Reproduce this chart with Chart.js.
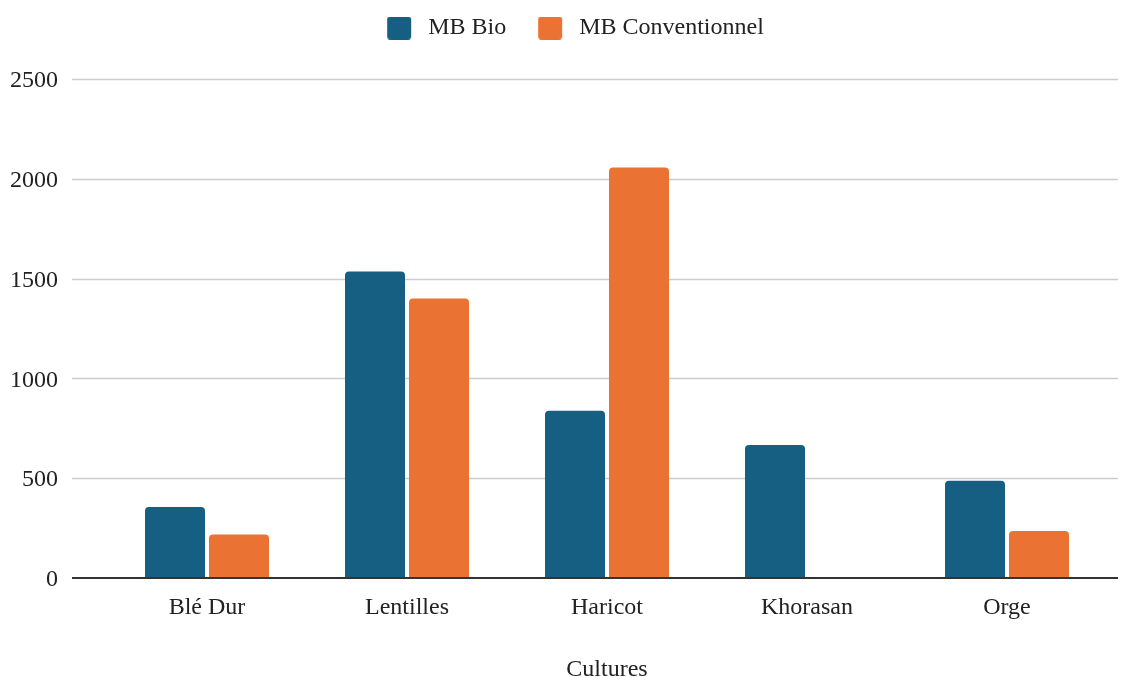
<!DOCTYPE html>
<html lang="fr">
<head>
<meta charset="utf-8">
<title>Marge brute par culture</title>
<script src="https://cdn.jsdelivr.net/npm/chart.js@4/dist/chart.umd.min.js"></script>
<style>
  html, body { margin: 0; padding: 0; background: #ffffff; }
  #wrap { width: 1131px; height: 677px; }
</style>
</head>
<body>
<div id="wrap"><canvas id="chart" width="1131" height="677"></canvas></div>
<script>
// Categories and values
const categories = ['Blé Dur', 'Lentilles', 'Haricot', 'Khorasan', 'Orge'];
const seriesNames = ['MB Bio', 'MB Conventionnel'];
const mbBio = [355, 1535, 837, 666, 486];
const mbConventionnel = [217, 1400, 2056, 0, 235];
const yTicks = [0, 500, 1000, 1500, 2000, 2500];
const xTitle = 'Cultures';

const BLUE = '#175f82';
const ORANGE = '#ea7334';
const FONT = "'Liberation Serif', 'Times New Roman', serif";
const TEXT = '#222222';

// Legend swatch: rounded square with transparent space around it
function swatch(color, leftPad, totalW) {
  const c = document.createElement('canvas');
  c.width = totalW; c.height = 23;
  const g = c.getContext('2d');
  g.fillStyle = color;
  g.beginPath();
  g.roundRect(leftPad, 0, 24, 23, 3);
  g.fill();
  return c;
}
const SW_W = 45;
const swatches = [swatch(BLUE, 16, SW_W), swatch(ORANGE, 16, SW_W)];

// Horizontal grid lines spanning wider than the category band
const gridPlugin = {
  id: 'wideGrid',
  beforeDatasetsDraw(chart) {
    const y = chart.scales.y, ctx = chart.ctx;
    ctx.save();
    ctx.strokeStyle = '#cccccc';
    ctx.lineWidth = 1.4;
    yTicks.forEach(v => {
      if (v === 0) return;
      const py = Math.round(y.getPixelForValue(v)) + 0.5;
      ctx.beginPath(); ctx.moveTo(72, py); ctx.lineTo(1118, py); ctx.stroke();
    });
    ctx.restore();
  },
  afterDatasetsDraw(chart) {
    const y = chart.scales.y, ctx = chart.ctx;
    const py = Math.round(y.getPixelForValue(0));
    ctx.save();
    ctx.strokeStyle = '#333333';
    ctx.lineWidth = 2;
    ctx.beginPath(); ctx.moveTo(72, py); ctx.lineTo(1118, py); ctx.stroke();
    ctx.restore();
  }
};

// Fixed legend band height above the plot, centred over the plot band
const legendPlacePlugin = {
  id: 'legendPlace',
  beforeInit(chart) {
    const lg = chart.legend;
    const fit = lg.fit;
    lg.fit = function () { fit.call(this); this.height = 79; };
  },
  afterLayout(chart) {
    const lg = chart.legend;
    lg.left += 14;
    lg.right += 14;
  }
};

new Chart(document.getElementById('chart'), {
  type: 'bar',
  data: {
    labels: categories,
    datasets: [
      { label: seriesNames[0], data: mbBio, backgroundColor: BLUE,
        borderRadius: 4, categoryPercentage: 0.64, barPercentage: 0.9375 },
      { label: seriesNames[1], data: mbConventionnel, backgroundColor: ORANGE,
        borderRadius: 4, categoryPercentage: 0.64, barPercentage: 0.9375 }
    ]
  },
  plugins: [gridPlugin, legendPlacePlugin],
  options: {
    responsive: false,
    animation: false,
    layout: { padding: { left: 0, right: 24, top: 0, bottom: 0 } },
    plugins: {
      tooltip: { enabled: false },
      legend: {
        position: 'top',
        align: 'center',
        labels: {
          font: { family: FONT, size: 24 },
          color: TEXT,
          padding: 16,
          usePointStyle: true,
          pointStyleWidth: SW_W,
          boxHeight: 23,
          generateLabels(chart) {
            return chart.data.datasets.map((ds, i) => ({
              text: ds.label,
              fillStyle: ds.backgroundColor,
              strokeStyle: ds.backgroundColor,
              lineWidth: 0,
              pointStyle: swatches[i],
              hidden: false,
              datasetIndex: i,
              fontColor: TEXT
            }));
          }
        }
      }
    },
    scales: {
      x: {
        grid: { display: false, drawTicks: false },
        border: { display: false },
        ticks: { font: { family: FONT, size: 24 }, color: TEXT, padding: 16 },
        title: {
          display: true, text: xTitle, color: TEXT,
          font: { family: FONT, size: 24, lineHeight: 0.6 },
          padding: { top: 24, bottom: 0 }
        }
      },
      y: {
        min: 0, max: 2500,
        grid: { display: false, drawTicks: false },
        border: { display: false },
        ticks: {
          stepSize: 500,
          font: { family: FONT, size: 24 }, color: TEXT, padding: 49,
          labelOffset: 2,
          callback: v => String(v)
        },
        afterFit(scale) { scale.width = 107; }
      }
    }
  }
});
</script>
</body>
</html>
